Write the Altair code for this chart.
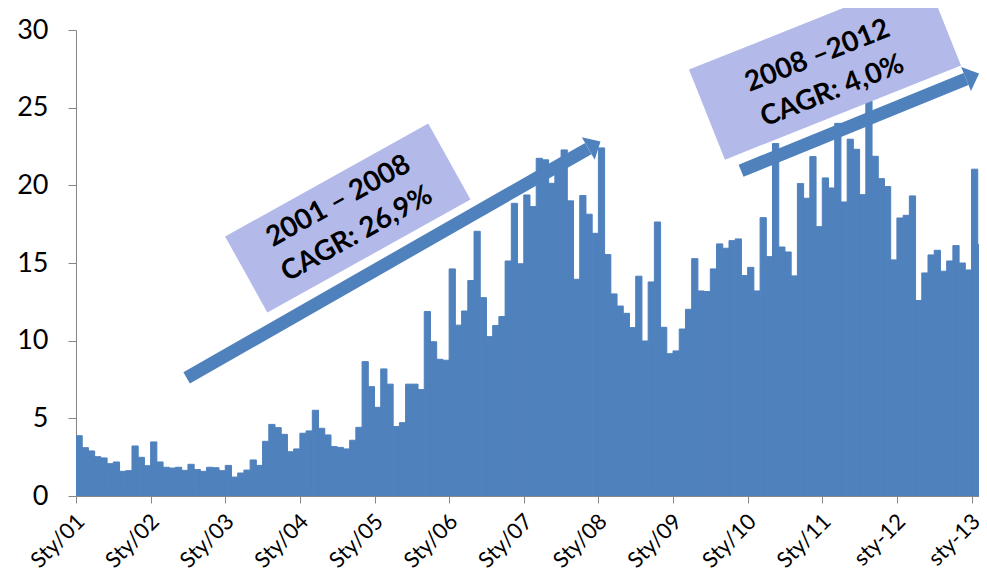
import altair as alt
import pandas as pd

# Monthly values, Jan 2001 .. Feb 2013
v2001 = [3.88, 3.11, 2.90, 2.53, 2.45, 2.08, 2.19, 1.59, 1.63, 3.22, 2.49, 1.95]
v2002 = [3.48, 2.19, 1.85, 1.80, 1.85, 1.65, 2.04, 1.70, 1.59, 1.85, 1.82, 1.63]
v2003 = [1.97, 1.22, 1.48, 1.67, 2.32, 1.97, 3.52, 4.61, 4.40, 3.97, 2.85, 3.03]
v2004 = [4.04, 4.19, 5.52, 4.36, 3.93, 3.18, 3.13, 3.03, 3.59, 4.42, 8.65, 7.04]
v2005 = [5.71, 8.18, 7.20, 4.47, 4.72, 7.20, 7.20, 6.85, 11.88, 9.93, 8.80, 8.74]
v2006 = [14.62, 11.00, 11.91, 13.87, 17.04, 12.77, 10.26, 10.98, 11.55, 15.13, 18.84, 14.95]
v2007 = [19.38, 18.63, 21.74, 21.64, 20.13, 21.20, 22.28, 19.00, 13.95, 19.34, 18.14, 16.91]
v2008 = [22.41, 15.54, 13.01, 12.23, 11.76, 10.84, 14.15, 9.98, 13.78, 17.64, 10.86, 9.16]
v2009 = [9.34, 10.75, 12.02, 15.28, 13.20, 13.16, 14.62, 16.23, 15.95, 16.44, 16.55, 14.19]
v2010 = [14.72, 13.20, 17.92, 15.41, 22.69, 16.03, 15.71, 14.17, 20.11, 19.17, 21.85, 17.34]
v2011 = [20.48, 19.83, 23.99, 18.93, 22.97, 22.32, 19.40, 25.43, 21.87, 20.43, 19.92, 15.20]
v2012 = [17.90, 18.07, 19.32, 12.58, 14.36, 15.52, 15.82, 14.47, 15.13, 16.12, 15.00, 14.55]
v2013 = [21.04, 16.18]

values = v2001 + v2002 + v2003 + v2004 + v2005 + v2006 + v2007 + v2008 + v2009 + v2010 + v2011 + v2012 + v2013
month_index = list(range(len(values)))

tick_labels = ["Sty/01", "Sty/02", "Sty/03", "Sty/04", "Sty/05", "Sty/06", "Sty/07",
               "Sty/08", "Sty/09", "Sty/10", "Sty/11", "sty-12", "sty-13"]
tick_positions = [12 * k for k in range(len(tick_labels))]
y_ticks = [0, 5, 10, 15, 20, 25, 30]

# Annotations (in data units: month index, value)
box_labels_1 = ["2001 \u2013 2008", "CAGR: 26,9%"]
box_labels_2 = ["2008 \u20132012", "CAGR: 4,0%"]

BLUE = "#4F81BD"
LAV = "#B3BAEA"
FONT = "Lato"
PLOT_H = 466

bars_df = pd.DataFrame({"m": month_index, "m2": [m + 1 for m in month_index], "v": values})
ticks_df = pd.DataFrame({"m": tick_positions, "t": tick_labels})

xs = alt.Scale(domain=[0, 145.2], nice=False, zero=False)
ys = alt.Scale(domain=[0, 30], nice=False)

x_axis = alt.Axis(values=tick_positions, labels=False, tickSize=7, tickColor="#868686",
                  domainColor="#868686", grid=False, title=None)
y_axis = alt.Axis(values=y_ticks, labelFont=FONT, labelFontSize=27, labelColor="#000000",
                  labelPadding=20, tickSize=8, tickColor="#868686", domainColor="#868686",
                  grid=False, title=None)

bars = alt.Chart(bars_df).mark_rect(color=BLUE, stroke=BLUE, strokeWidth=1, clip=True).encode(
    x=alt.X("m:Q", scale=xs, axis=x_axis),
    x2="m2:Q",
    y=alt.Y("v:Q", scale=ys, axis=y_axis),
    y2=alt.datum(0),
)

X = lambda f: alt.X(f, scale=xs, title=None)
Y = lambda f: alt.Y(f, scale=ys, title=None)

# rotated x tick labels
x_labels = alt.Chart(ticks_df).mark_text(
    font=FONT, fontSize=22, color="#000000", angle=315, align="right", baseline="middle",
    xOffset=5
).encode(x=X("m:Q"), y=alt.value(PLOT_H + 22), text="t:N")


def seg(x1, y1, x2, y2):
    return pd.DataFrame({"m": [x1], "v": [y1], "m2": [x2], "v2": [y2]})


def rule(df, color, width):
    return alt.Chart(df).mark_rule(color=color, strokeWidth=width, strokeCap="butt").encode(
        x=X("m:Q"), y=Y("v:Q"), x2="m2:Q", y2="v2:Q")


box1 = rule(seg(27.37, 14.26, 60.04, 21.53), LAV, 87)
box2 = rule(seg(101.46, 24.55, 139.41, 30.62), LAV, 97)

shaft1 = rule(seg(17.79, 7.60, 82.37, 22.37), BLUE, 13)
shaft2 = rule(seg(106.94, 20.94, 143.12, 26.85), BLUE, 13)

HEAD = "M0,-1L1.08,0L0,1Z"


def head(x, y, ang):
    return alt.Chart(pd.DataFrame({"m": [x], "v": [y]})).mark_point(
        shape=HEAD, filled=True, opacity=1, color=BLUE, size=676, angle=ang, strokeWidth=0
    ).encode(x=X("m:Q"), y=Y("v:Q"))


head1 = head(82.37, 22.37, 330.34)
head2 = head(143.12, 26.85, 337.9)


def texts(labels, xs_, ys_, ang):
    df = pd.DataFrame({"m": xs_, "v": ys_, "t": labels})
    return alt.Chart(df).mark_text(font=FONT, fontSize=28, fontWeight="bold", color="#000000",
                                   angle=ang, align="center", baseline="middle").encode(
        x=X("m:Q"), y=Y("v:Q"), text="t:N")


text1 = texts(box_labels_1, [42.23, 45.19], [18.96, 16.84], 331)
text2 = texts(box_labels_2, [119.24, 121.64], [28.3, 26.05], 338.3)

chart = alt.layer(bars, box1, box2, shaft1, shaft2, head1, head2, text1, text2, x_labels).properties(
    width=903, height=PLOT_H,
    padding={"left": 68, "top": 22, "right": 0, "bottom": 76},
    autosize=alt.AutoSizeParams(type="none"),
).configure_view(stroke=None)

chart.save("out.html", embed_options={"renderer": "svg", "actions": False})
